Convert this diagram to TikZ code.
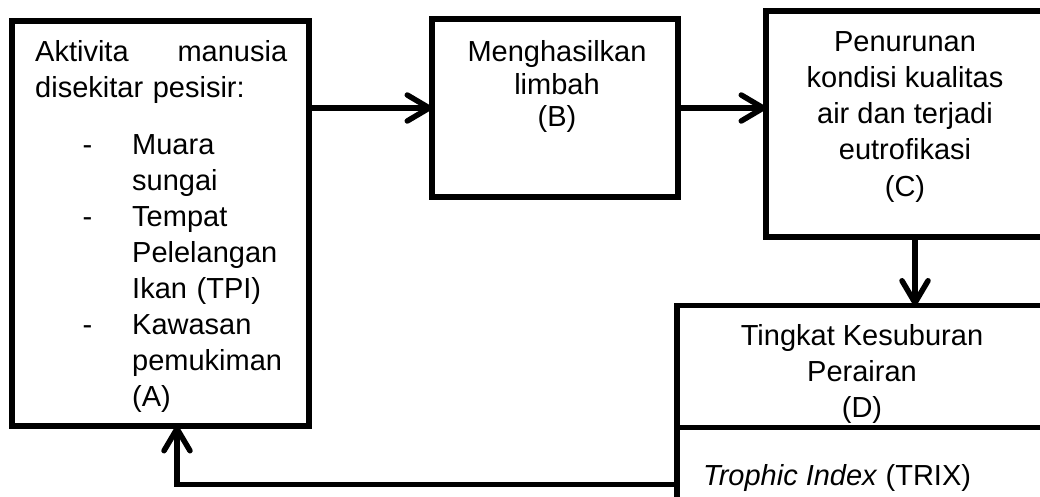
\documentclass[tikz,border=0pt]{standalone}
\usepackage{fontspec}
\setmainfont{Liberation Sans}
\usetikzlibrary{positioning, arrows.meta}

\begin{document}
\begin{tikzpicture}[x=1pt,y=-1pt,
   box/.style={draw, line width=5.5pt, inner sep=0pt, outer sep=0pt},
   txt/.style={inner sep=0pt, font=\fontsize{29}{36}\selectfont},
   flow/.style={line width=5.5pt, -{Straight Barb[length=22pt,width=26pt,round]}}]
   \useasboundingbox (0,0) rectangle (1040,497);
   \clip (0,0) rectangle (1040,497);

   % boxes
   \node[box, minimum width=297pt, minimum height=405pt] (A) at (160.5,223.5) {};
   \node[box, minimum width=246pt, minimum height=178pt] (B) at (555,108) {};
   \node[box, minimum width=282pt, minimum height=226pt] (C) at (907,124) {};
   \node[box, minimum width=371pt, minimum height=122pt] (Dtop) at (862.5,366.5) {};
   \node[box, minimum width=371pt, minimum height=114pt] (Dbot) [below=0pt of Dtop] {};

   % texts (centred ones sit on their last line)
   \node[txt, anchor=base west, text width=252pt, align=left] (Atxt) at (35,62)
      {Aktivita\hfill manusia\\
       disekitar pesisir:\\[21pt]
       \hspace*{97pt}\llap{-\hspace{40pt}}Muara\\
       \hspace*{97pt}sungai\\
       \hspace*{97pt}\llap{-\hspace{40pt}}Tempat\\
       \hspace*{97pt}Pelelangan\\
       \hspace*{97pt}Ikan (TPI)\\
       \hspace*{97pt}\llap{-\hspace{40pt}}Kawasan\\
       \hspace*{97pt}pemukiman\\
       \hspace*{97pt}(A)};
   \node[txt, anchor=base, align=center, font=\fontsize{29}{32.5}\selectfont] (Btxt) at (557,127)
      {Menghasilkan\\limbah\\(B)};
   \node[txt, anchor=base, align=center] (Ctxt) at (905,196)
      {Penurunan\\kondisi kualitas\\air dan terjadi\\eutrofikasi\\(C)};
   \node[txt, anchor=base, align=center] (Dtxt) at (862,417)
      {Tingkat Kesuburan\\Perairan\\(D)};
   \node[txt, anchor=base west] (Trix) at (703,485) {\textit{Trophic Index} (TRIX)};

   % arrows
   \draw[flow] (B.west -| A.east) -- (B.west);
   \draw[flow] (B.east) -- (B.east -| C.west);
   \draw[flow] ([xshift=8pt]C.south) -- ([xshift=8pt]C.south |- Dtop.north);
   \draw[flow] (Dbot.west) -| ([xshift=16.5pt]A.south);
\end{tikzpicture}
\end{document}
